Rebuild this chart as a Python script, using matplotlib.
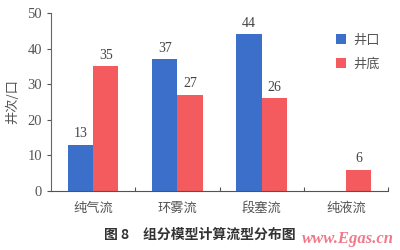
import matplotlib
matplotlib.use("Agg")
import matplotlib.pyplot as plt
import numpy as np

plt.rcParams['font.family'] = ['Liberation Serif', 'Noto Sans CJK SC']

categories = ['纯气流', '环雾流', '段塞流', '纯液流']
wellhead = [13, 37, 44, 0]
bottom = [35, 27, 26, 6]
series_names = ['井口', '井底']
colors = ['#3b6fc9', '#f45b5e']

fig = plt.figure(figsize=(4, 2.5), dpi=100)
ax = fig.add_axes([0.1275, 0.236, 0.8425, 0.712])

x = np.arange(len(categories))
w = 0.3
b1 = ax.bar(x - w / 2, wellhead, w, color=colors[0], label=series_names[0])
b2 = ax.bar(x + w / 2, bottom, w, color=colors[1], label=series_names[1])

for rects, vals in [(b1, wellhead), (b2, bottom)]:
    for r, v in zip(rects, vals):
        if v > 0:
            ax.text(r.get_x() + r.get_width() / 2, v + 1.3, str(v),
                    ha='center', va='bottom', fontsize=10, color='#444444')

ax.set_xlim(-0.5, 3.5)
ax.set_ylim(0, 50)
ax.set_yticks([0, 10, 20, 30, 40, 50])
ax.tick_params(axis='y', labelsize=10.5, colors='#555555', length=3, direction='out')
ax.set_xticks([0.5, 1.5, 2.5, 3.5])
ax.set_xticklabels([])
ax.tick_params(axis='x', length=3, direction='in', color='#4a5a4a')
ax.set_xticks(x, minor=True)
ax.set_xticklabels(categories, minor=True, fontsize=9.5, color='#555555',
                   family=['Noto Sans CJK SC'])
ax.tick_params(axis='x', which='minor', length=0, pad=8)

ax.spines['top'].set_visible(False)
ax.spines['right'].set_visible(False)
ax.spines['left'].set_color('#666666')
ax.spines['bottom'].set_color('#4a5a4a')

ax.set_ylabel('井次/口', fontsize=9.5, color='#555555', family=['Noto Sans CJK SC'], labelpad=6)

leg = ax.legend(loc='upper right', bbox_to_anchor=(1.01, 0.95), frameon=False,
                handlelength=0.8, handleheight=0.8, handletextpad=0.5,
                labelspacing=0.8, prop={'family': 'Noto Sans CJK SC', 'size': 9.5})
for t in leg.get_texts():
    t.set_color('#555555')

fig.text(0.5, 0.06, '图 8　组分模型计算流型分布图', ha='center', va='center',
         fontsize=10, fontweight='bold', color='#333333', family=['Noto Sans CJK SC'])
fig.text(0.985, 0.045, 'www.Egas.cn', ha='right', va='center', fontsize=12,
         style='italic', fontweight='bold', color='#f07a8a', family=['Liberation Serif'])

fig.savefig('out.png', dpi=100)
